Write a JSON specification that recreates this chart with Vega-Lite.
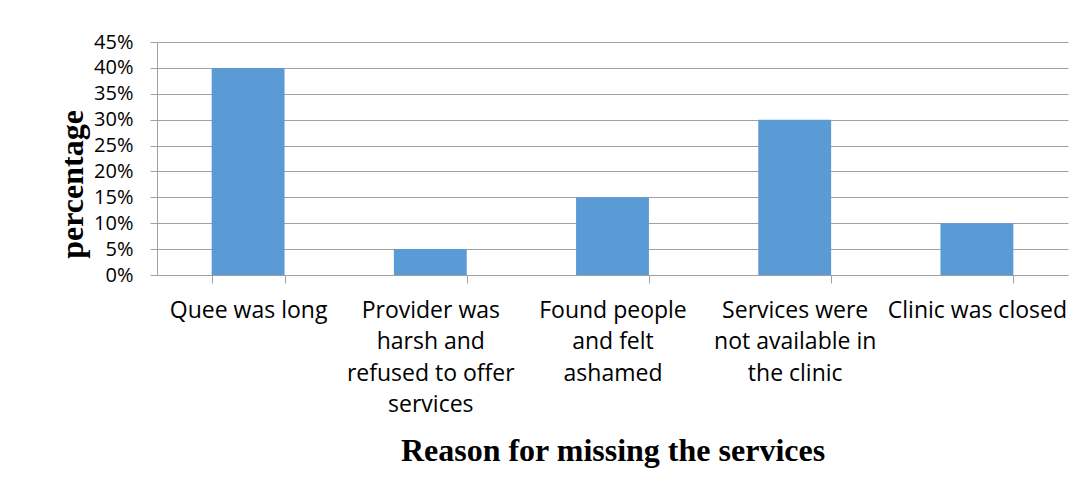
{
  "$schema": "https://vega.github.io/schema/vega-lite/v6.json",
  "width": 911,
  "height": 233,
  "autosize": {"type": "none"},
  "padding": {"left": 157, "top": 42, "right": 16, "bottom": 220},
  "background": "white",
  "data": {
    "values": [
      {"reason": "Quee was long", "pct": 0.40},
      {"reason": "Provider was|harsh and|refused to offer|services", "pct": 0.05},
      {"reason": "Found people|and felt|ashamed", "pct": 0.15},
      {"reason": "Services were|not available in|the clinic", "pct": 0.30},
      {"reason": "Clinic was closed", "pct": 0.10}
    ]
  },
  "mark": {"type": "bar", "color": "#5B9BD5"},
  "encoding": {
    "x": {
      "field": "reason",
      "type": "nominal",
      "sort": null,
      "scale": {"paddingInner": 0.6, "paddingOuter": 0.3},
      "axis": {
        "title": "Reason for missing the services",
        "titleFont": "Liberation Serif",
        "titleFontSize": 32,
        "titleFontWeight": "bold",
        "titleColor": "#000000",
        "titlePadding": 19,
        "labelExpr": "split(datum.label, '|')",
        "labelFont": "Open Sans",
        "labelFontSize": 23,
        "labelLineHeight": 31.5,
        "labelColor": "#000000",
        "labelAngle": 0,
        "labelPadding": 16,
        "labelLimit": 300,
        "tickBand": "extent",
        "tickSize": 8,
        "tickColor": "#A0A0A0",
        "domainColor": "#A0A0A0",
        "grid": false
      }
    },
    "y": {
      "field": "pct",
      "type": "quantitative",
      "scale": {"domain": [0, 0.45], "nice": false},
      "axis": {
        "title": "percentage",
        "titleFont": "Liberation Serif",
        "titleFontSize": 32,
        "titleFontWeight": "bold",
        "titleColor": "#000000",
        "titlePadding": 4,
        "titleY": 142,
        "format": ".0%",
        "values": [0, 0.05, 0.1, 0.15, 0.2, 0.25, 0.3, 0.35, 0.4, 0.45],
        "labelFont": "Open Sans",
        "labelFontSize": 20,
        "labelColor": "#000000",
        "labelPadding": 17,
        "tickSize": 7,
        "tickColor": "#A0A0A0",
        "domainColor": "#A0A0A0",
        "gridColor": "#A0A0A0",
        "grid": true
      }
    }
  },
  "config": {"view": {"stroke": null}}
}
